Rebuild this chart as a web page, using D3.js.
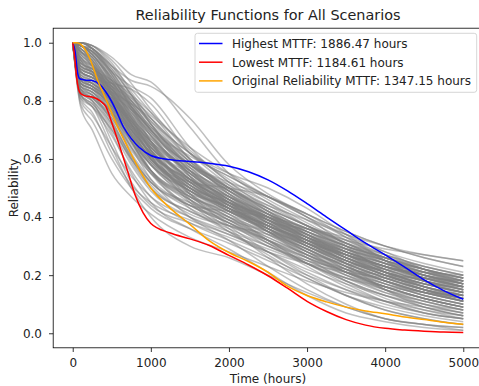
<!DOCTYPE html>
<html>
<head>
<meta charset="utf-8">
<script src="https://cdn.jsdelivr.net/npm/d3@7"></script>
<style>
  html, body { margin: 0; padding: 0; background: #fff; }
  svg { display: block; font-family: "DejaVu Sans", sans-serif; }
</style>
</head>
<body>
<svg id="chart" width="479" height="386"></svg>
<script>
// ---------------- DATA ----------------
const titleText = "Reliability Functions for All Scenarios";
const xLabel = "Time (hours)";
const yLabel = "Reliability";
const xTicks = [0, 1000, 2000, 3000, 4000, 5000];
const yTicks = [0.0, 0.2, 0.4, 0.6, 0.8, 1.0];

const legendLabels = [
  "Highest MTTF: 1886.47 hours",
  "Lowest MTTF: 1184.61 hours",
  "Original Reliability MTTF: 1347.15 hours"
];

// time grid used by every grey scenario curve
const grayTimes = [0, 100, 250, 500, 750, 1000, 1500, 2000, 2500, 3000, 3500, 4000, 4500, 5000];
const grayCurves = [
  [1, 1.00, 0.99, 0.95, 0.89, 0.865, 0.71, 0.55, 0.46, 0.39, 0.32, 0.26, 0.21, 0.17],
  [1, 0.99, 0.98, 0.92, 0.87, 0.85, 0.74, 0.58, 0.48, 0.41, 0.35, 0.30, 0.26, 0.23],
  [1, 0.99, 0.97, 0.90, 0.85, 0.81, 0.64, 0.52, 0.45, 0.38, 0.31, 0.25, 0.20, 0.16],
  [1, 0.90, 0.88, 0.86, 0.84, 0.79, 0.62, 0.54, 0.47, 0.41, 0.35, 0.30, 0.26, 0.23],
  [1, 0.99, 0.95, 0.84, 0.73, 0.66, 0.57, 0.50, 0.42, 0.34, 0.27, 0.21, 0.16, 0.13],
  [1, 0.86, 0.84, 0.78, 0.66, 0.56, 0.48, 0.44, 0.39, 0.33, 0.27, 0.22, 0.18, 0.15],
  [1, 0.97, 0.93, 0.82, 0.70, 0.60, 0.50, 0.45, 0.40, 0.35, 0.30, 0.26, 0.23, 0.20],
  [1, 0.88, 0.86, 0.80, 0.72, 0.64, 0.52, 0.43, 0.35, 0.28, 0.22, 0.17, 0.13, 0.10],
  [1, 0.83, 0.81, 0.73, 0.60, 0.50, 0.42, 0.37, 0.32, 0.27, 0.22, 0.18, 0.14, 0.11],
  [1, 1.00, 0.98, 0.90, 0.80, 0.70, 0.56, 0.47, 0.40, 0.33, 0.26, 0.20, 0.15, 0.11],
  [1, 0.92, 0.90, 0.84, 0.76, 0.68, 0.55, 0.46, 0.39, 0.32, 0.26, 0.21, 0.17, 0.14],
  [1, 0.85, 0.82, 0.74, 0.63, 0.55, 0.47, 0.41, 0.32, 0.24, 0.19, 0.16, 0.14, 0.13],
  [1, 0.98, 0.94, 0.83, 0.71, 0.62, 0.53, 0.47, 0.41, 0.35, 0.29, 0.24, 0.19, 0.16],
  [1, 0.78, 0.70, 0.55, 0.47, 0.41, 0.33, 0.28, 0.23, 0.18, 0.14, 0.11, 0.09, 0.07],
  [1, 0.87, 0.85, 0.81, 0.75, 0.68, 0.58, 0.50, 0.44, 0.39, 0.34, 0.30, 0.27, 0.25],
  [1, 0.99, 0.96, 0.86, 0.74, 0.63, 0.50, 0.42, 0.35, 0.29, 0.23, 0.18, 0.14, 0.11],
  [1, 0.89, 0.87, 0.83, 0.79, 0.74, 0.60, 0.49, 0.40, 0.32, 0.25, 0.19, 0.15, 0.12],
  [1, 0.84, 0.80, 0.66, 0.52, 0.44, 0.38, 0.33, 0.28, 0.24, 0.21, 0.19, 0.17, 0.16],
  [1, 1.00, 0.99, 0.93, 0.83, 0.74, 0.60, 0.50, 0.43, 0.37, 0.32, 0.27, 0.23, 0.20],
  [1, 0.91, 0.89, 0.83, 0.73, 0.63, 0.51, 0.44, 0.38, 0.33, 0.28, 0.24, 0.20, 0.17],
  [1, 0.95, 0.92, 0.82, 0.68, 0.56, 0.44, 0.42, 0.40, 0.36, 0.29, 0.22, 0.16, 0.12],
  [1, 0.86, 0.83, 0.76, 0.68, 0.61, 0.53, 0.47, 0.41, 0.36, 0.31, 0.27, 0.23, 0.20],
  [1, 0.99, 0.97, 0.88, 0.78, 0.70, 0.61, 0.54, 0.47, 0.40, 0.33, 0.27, 0.22, 0.18],
  [1, 0.82, 0.79, 0.70, 0.58, 0.49, 0.40, 0.34, 0.28, 0.22, 0.17, 0.13, 0.10, 0.08],
  [1, 0.93, 0.91, 0.87, 0.82, 0.76, 0.63, 0.52, 0.43, 0.35, 0.28, 0.22, 0.18, 0.15],
  [1, 0.98, 0.93, 0.80, 0.67, 0.58, 0.49, 0.43, 0.38, 0.33, 0.29, 0.25, 0.22, 0.19],
  [1, 0.88, 0.86, 0.80, 0.70, 0.60, 0.52, 0.50, 0.47, 0.40, 0.30, 0.21, 0.15, 0.11],
  [1, 1.00, 0.98, 0.91, 0.82, 0.72, 0.56, 0.45, 0.37, 0.30, 0.24, 0.19, 0.15, 0.12],
  [1, 0.84, 0.82, 0.77, 0.70, 0.62, 0.50, 0.43, 0.37, 0.32, 0.27, 0.23, 0.20, 0.18],
  [1, 0.95, 0.90, 0.76, 0.62, 0.53, 0.44, 0.38, 0.32, 0.26, 0.20, 0.15, 0.11, 0.08],
  [1, 0.90, 0.88, 0.85, 0.80, 0.72, 0.57, 0.48, 0.41, 0.35, 0.29, 0.24, 0.20, 0.17],
  [1, 0.99, 0.96, 0.87, 0.77, 0.68, 0.55, 0.46, 0.38, 0.31, 0.25, 0.20, 0.16, 0.13],
  [1, 0.81, 0.76, 0.62, 0.51, 0.45, 0.39, 0.34, 0.29, 0.24, 0.19, 0.15, 0.12, 0.09],
  [1, 0.87, 0.85, 0.80, 0.72, 0.65, 0.56, 0.48, 0.41, 0.36, 0.32, 0.29, 0.27, 0.25],
  [1, 0.97, 0.92, 0.81, 0.70, 0.62, 0.52, 0.44, 0.36, 0.28, 0.21, 0.15, 0.11, 0.08],
  [1, 0.92, 0.90, 0.85, 0.77, 0.69, 0.58, 0.51, 0.44, 0.37, 0.31, 0.26, 0.22, 0.19],
  [1, 0.85, 0.83, 0.75, 0.64, 0.56, 0.47, 0.42, 0.37, 0.32, 0.28, 0.24, 0.21, 0.18],
  [1, 1.00, 0.98, 0.89, 0.77, 0.66, 0.52, 0.43, 0.35, 0.27, 0.20, 0.14, 0.10, 0.07],
  [1, 0.90, 0.88, 0.84, 0.78, 0.70, 0.54, 0.42, 0.38, 0.36, 0.33, 0.28, 0.22, 0.17],
  [1, 0.94, 0.89, 0.77, 0.66, 0.58, 0.48, 0.41, 0.36, 0.31, 0.27, 0.23, 0.20, 0.17],
  [1, 0.83, 0.80, 0.72, 0.61, 0.52, 0.44, 0.39, 0.35, 0.31, 0.27, 0.23, 0.20, 0.17],
  [1, 0.99, 0.97, 0.89, 0.80, 0.73, 0.62, 0.53, 0.45, 0.37, 0.30, 0.24, 0.19, 0.15],
  [1, 0.91, 0.89, 0.82, 0.71, 0.61, 0.49, 0.41, 0.34, 0.27, 0.21, 0.16, 0.12, 0.09],
  [1, 0.86, 0.84, 0.79, 0.73, 0.66, 0.55, 0.46, 0.38, 0.31, 0.25, 0.20, 0.17, 0.14],
  [1, 0.98, 0.95, 0.85, 0.73, 0.64, 0.54, 0.46, 0.39, 0.32, 0.26, 0.21, 0.17, 0.14],
  [1, 0.79, 0.73, 0.60, 0.50, 0.43, 0.36, 0.31, 0.25, 0.19, 0.13, 0.09, 0.06, 0.04],
  [1, 0.93, 0.91, 0.86, 0.79, 0.71, 0.59, 0.50, 0.42, 0.36, 0.30, 0.25, 0.21, 0.18],
  [1, 0.99, 0.96, 0.86, 0.75, 0.65, 0.53, 0.45, 0.39, 0.34, 0.29, 0.25, 0.22, 0.19],
  [1, 0.88, 0.86, 0.80, 0.71, 0.62, 0.51, 0.44, 0.39, 0.34, 0.29, 0.25, 0.21, 0.18],
  [1, 0.84, 0.81, 0.72, 0.59, 0.50, 0.42, 0.36, 0.30, 0.24, 0.18, 0.13, 0.09, 0.06],
  [1, 1.00, 0.99, 0.94, 0.86, 0.77, 0.62, 0.51, 0.42, 0.34, 0.27, 0.21, 0.17, 0.14],
  [1, 0.90, 0.88, 0.83, 0.76, 0.69, 0.58, 0.52, 0.47, 0.41, 0.33, 0.25, 0.18, 0.13],
  [1, 0.96, 0.92, 0.80, 0.68, 0.59, 0.49, 0.43, 0.37, 0.31, 0.25, 0.20, 0.16, 0.13],
  [1, 0.86, 0.84, 0.78, 0.69, 0.60, 0.49, 0.42, 0.36, 0.30, 0.25, 0.21, 0.18, 0.15],
  [1, 0.99, 0.97, 0.90, 0.81, 0.73, 0.59, 0.48, 0.39, 0.31, 0.24, 0.18, 0.13, 0.10],
  [1, 0.82, 0.78, 0.68, 0.56, 0.47, 0.38, 0.32, 0.26, 0.20, 0.15, 0.11, 0.08, 0.06],
  [1, 0.92, 0.90, 0.86, 0.81, 0.75, 0.64, 0.55, 0.47, 0.40, 0.34, 0.28, 0.24, 0.21],
  [1, 0.97, 0.93, 0.83, 0.72, 0.63, 0.51, 0.45, 0.40, 0.33, 0.24, 0.15, 0.09, 0.06],
  [1, 0.87, 0.85, 0.79, 0.70, 0.62, 0.52, 0.44, 0.37, 0.31, 0.26, 0.22, 0.19, 0.17],
  [1, 0.89, 0.87, 0.81, 0.72, 0.63, 0.50, 0.42, 0.36, 0.30, 0.24, 0.19, 0.15, 0.12],
  [1, 1.00, 0.98, 0.92, 0.84, 0.76, 0.60, 0.48, 0.40, 0.33, 0.27, 0.22, 0.18, 0.15],
  [1, 0.85, 0.82, 0.73, 0.61, 0.52, 0.45, 0.40, 0.35, 0.30, 0.25, 0.21, 0.18, 0.16],
  [1, 0.94, 0.90, 0.79, 0.68, 0.60, 0.52, 0.46, 0.40, 0.34, 0.28, 0.23, 0.18, 0.14],
  [1, 0.91, 0.89, 0.84, 0.77, 0.70, 0.57, 0.47, 0.38, 0.30, 0.23, 0.17, 0.13, 0.10],
  [1, 0.83, 0.80, 0.71, 0.60, 0.51, 0.41, 0.37, 0.34, 0.29, 0.22, 0.15, 0.10, 0.07],
  [1, 0.98, 0.95, 0.85, 0.74, 0.66, 0.56, 0.49, 0.43, 0.37, 0.31, 0.25, 0.20, 0.16],
  [1, 0.88, 0.86, 0.81, 0.74, 0.67, 0.56, 0.47, 0.39, 0.32, 0.26, 0.21, 0.17, 0.14],
  [1, 0.95, 0.91, 0.79, 0.66, 0.56, 0.45, 0.38, 0.31, 0.24, 0.18, 0.13, 0.09, 0.06],
  [1, 0.86, 0.84, 0.77, 0.67, 0.58, 0.46, 0.38, 0.30, 0.25, 0.22, 0.20, 0.19, 0.18],
  [1, 0.99, 0.98, 0.91, 0.82, 0.74, 0.62, 0.55, 0.50, 0.43, 0.34, 0.25, 0.18, 0.14],
  [1, 0.80, 0.75, 0.64, 0.54, 0.47, 0.40, 0.35, 0.30, 0.25, 0.20, 0.16, 0.12, 0.09],
  [1, 0.92, 0.90, 0.84, 0.75, 0.66, 0.53, 0.45, 0.38, 0.32, 0.26, 0.21, 0.17, 0.14],
  [1, 0.97, 0.94, 0.84, 0.72, 0.61, 0.48, 0.40, 0.33, 0.27, 0.21, 0.16, 0.12, 0.09],
  [1, 0.87, 0.85, 0.80, 0.73, 0.65, 0.53, 0.45, 0.39, 0.33, 0.28, 0.24, 0.21, 0.19],
  [1, 0.90, 0.88, 0.82, 0.73, 0.64, 0.55, 0.47, 0.40, 0.33, 0.27, 0.22, 0.18, 0.15],
  [1, 0.99, 0.96, 0.88, 0.79, 0.71, 0.58, 0.49, 0.41, 0.34, 0.28, 0.23, 0.19, 0.16],
  [1, 0.84, 0.81, 0.74, 0.64, 0.55, 0.46, 0.39, 0.32, 0.25, 0.19, 0.14, 0.11, 0.08],
  [1, 0.93, 0.91, 0.86, 0.78, 0.70, 0.56, 0.46, 0.39, 0.33, 0.28, 0.23, 0.19, 0.16],
  [1, 0.96, 0.92, 0.81, 0.69, 0.59, 0.47, 0.39, 0.31, 0.23, 0.16, 0.11, 0.07, 0.05],
  [1, 0.88, 0.86, 0.82, 0.77, 0.71, 0.60, 0.50, 0.41, 0.33, 0.26, 0.20, 0.16, 0.13],
  [1, 0.97, 0.94, 0.85, 0.74, 0.63, 0.46, 0.36, 0.26, 0.17, 0.10, 0.05, 0.03, 0.02],
  [1, 0.85, 0.83, 0.76, 0.64, 0.53, 0.40, 0.32, 0.23, 0.15, 0.09, 0.05, 0.03, 0.01],
  [1, 0.90, 0.88, 0.82, 0.72, 0.61, 0.45, 0.35, 0.27, 0.19, 0.13, 0.08, 0.05, 0.03],
  [1, 0.99, 0.97, 0.89, 0.78, 0.66, 0.48, 0.37, 0.28, 0.20, 0.13, 0.08, 0.05, 0.03],
  [1, 0.82, 0.79, 0.69, 0.55, 0.45, 0.36, 0.29, 0.21, 0.13, 0.07, 0.04, 0.02, 0.01],
  [1, 0.94, 0.91, 0.83, 0.72, 0.62, 0.48, 0.40, 0.32, 0.24, 0.17, 0.11, 0.07, 0.05],
  [1, 0.88, 0.85, 0.77, 0.66, 0.56, 0.43, 0.35, 0.28, 0.21, 0.15, 0.10, 0.07, 0.05],
  [1, 1.00, 0.98, 0.90, 0.79, 0.69, 0.54, 0.44, 0.35, 0.26, 0.18, 0.12, 0.08, 0.05],
  [1, 0.82, 0.78, 0.64, 0.50, 0.40, 0.30, 0.26, 0.20, 0.14, 0.09, 0.05, 0.03, 0.02],
  [1, 0.90, 0.87, 0.79, 0.68, 0.58, 0.47, 0.40, 0.34, 0.28, 0.23, 0.18, 0.14, 0.11],
  [1, 0.95, 0.92, 0.84, 0.74, 0.65, 0.53, 0.45, 0.38, 0.31, 0.25, 0.20, 0.16, 0.13],
  [1, 0.86, 0.84, 0.80, 0.74, 0.67, 0.55, 0.45, 0.36, 0.28, 0.21, 0.16, 0.12, 0.09],
  [1, 0.99, 0.97, 0.87, 0.75, 0.64, 0.51, 0.43, 0.37, 0.32, 0.27, 0.23, 0.19, 0.16],
  [1, 0.83, 0.81, 0.75, 0.66, 0.58, 0.49, 0.43, 0.37, 0.31, 0.25, 0.20, 0.16, 0.12],
  [1, 0.92, 0.89, 0.80, 0.69, 0.60, 0.51, 0.43, 0.35, 0.28, 0.24, 0.22, 0.21, 0.20],
  [1, 0.97, 0.95, 0.88, 0.78, 0.68, 0.54, 0.45, 0.37, 0.30, 0.24, 0.19, 0.15, 0.12],
  [1, 0.87, 0.84, 0.76, 0.65, 0.56, 0.46, 0.39, 0.33, 0.27, 0.22, 0.18, 0.15, 0.13],
  [1, 0.91, 0.89, 0.85, 0.78, 0.70, 0.58, 0.49, 0.41, 0.34, 0.28, 0.23, 0.20, 0.17],
  [1, 0.98, 0.94, 0.82, 0.70, 0.60, 0.49, 0.42, 0.35, 0.29, 0.23, 0.18, 0.14, 0.11],
  [1, 0.84, 0.82, 0.76, 0.67, 0.59, 0.50, 0.45, 0.40, 0.35, 0.30, 0.26, 0.22, 0.19],
  [1, 0.93, 0.90, 0.82, 0.72, 0.63, 0.52, 0.44, 0.36, 0.29, 0.23, 0.18, 0.14, 0.12],
  [1, 0.89, 0.86, 0.78, 0.66, 0.55, 0.44, 0.38, 0.32, 0.26, 0.21, 0.17, 0.13, 0.10],
  [1, 1.00, 0.99, 0.92, 0.82, 0.72, 0.58, 0.49, 0.42, 0.36, 0.30, 0.26, 0.22, 0.19],
  [1, 0.85, 0.83, 0.78, 0.71, 0.64, 0.53, 0.46, 0.40, 0.35, 0.30, 0.25, 0.21, 0.17],
  [1, 0.96, 0.93, 0.83, 0.71, 0.61, 0.50, 0.43, 0.36, 0.30, 0.24, 0.19, 0.15, 0.12],
  [1, 0.88, 0.85, 0.78, 0.69, 0.60, 0.50, 0.43, 0.37, 0.32, 0.27, 0.23, 0.19, 0.16],
  [1, 0.81, 0.78, 0.70, 0.60, 0.52, 0.43, 0.37, 0.31, 0.26, 0.21, 0.17, 0.14, 0.11],
  [1, 0.94, 0.92, 0.87, 0.80, 0.72, 0.59, 0.50, 0.43, 0.37, 0.31, 0.26, 0.22, 0.18],
  [1, 0.99, 0.96, 0.87, 0.76, 0.66, 0.53, 0.44, 0.36, 0.29, 0.22, 0.16, 0.12, 0.09]
];

// highlighted scenarios
const highestTimes = [0, 30, 60, 90, 150, 250, 350, 450, 550, 650, 750, 850, 1000, 1250, 1500, 1750, 2000, 2250, 2500, 2750, 3000, 3250, 3500, 3750, 4000, 4250, 4500, 4750, 5000];
const highestValues = [1.0, 0.97, 0.90, 0.876, 0.872, 0.870, 0.855, 0.82, 0.77, 0.71, 0.67, 0.64, 0.612, 0.597, 0.591, 0.585, 0.575, 0.556, 0.528, 0.49, 0.446, 0.40, 0.355, 0.31, 0.27, 0.228, 0.184, 0.147, 0.117];

const lowestTimes = [0, 25, 50, 75, 100, 150, 250, 350, 425, 500, 600, 700, 800, 900, 1000, 1250, 1500, 1750, 2000, 2250, 2500, 2750, 3000, 3250, 3500, 3750, 4000, 4250, 4500, 4750, 5000];
const lowestValues = [1.0, 0.95, 0.88, 0.84, 0.825, 0.818, 0.813, 0.80, 0.78, 0.725, 0.645, 0.56, 0.475, 0.415, 0.378, 0.345, 0.325, 0.302, 0.268, 0.235, 0.198, 0.155, 0.11, 0.075, 0.047, 0.028, 0.017, 0.011, 0.007, 0.004, 0.003];

const originalTimes = [0, 50, 100, 150, 220, 320, 435, 560, 705, 860, 1000, 1250, 1500, 1750, 2000, 2250, 2500, 2750, 3000, 3250, 3500, 3750, 4000, 4250, 4500, 4750, 5000];
const originalValues = [1.0, 1.0, 0.995, 0.98, 0.945, 0.87, 0.80, 0.72, 0.64, 0.56, 0.50, 0.43, 0.375, 0.318, 0.278, 0.247, 0.21, 0.162, 0.13, 0.108, 0.09, 0.077, 0.067, 0.056, 0.047, 0.038, 0.031];

const seriesColors = ["blue", "red", "orange"];

// ---------------- LAYOUT ----------------
const plot = { left: 53.2, right: 482.8, top: 28.2, bottom: 347.8 };

const svg = d3.select("#chart");
const x = d3.scaleLinear().domain([-250, 5250]).range([plot.left, plot.right]);
const y = d3.scaleLinear().domain([-0.05, 1.05]).range([plot.bottom, plot.top]);

const line = d3.line()
  .x(d => x(d[0]))
  .y(d => y(d[1]))
  .curve(d3.curveMonotoneX);

const g = svg.append("g");

// grey scenario curves
g.selectAll("path.scn")
  .data(grayCurves)
  .join("path")
  .attr("class", "scn")
  .attr("d", vals => line(vals.map((v, i) => [grayTimes[i], v])))
  .attr("fill", "none")
  .attr("stroke", "#808080")
  .attr("stroke-opacity", 0.5)
  .attr("stroke-width", 1.5);

const highlighted = [
  [highestTimes, highestValues],
  [lowestTimes, lowestValues],
  [originalTimes, originalValues]
];
highlighted.forEach(([ts, vs], k) => {
  g.append("path")
    .attr("d", line(vs.map((v, i) => [ts[i], v])))
    .attr("fill", "none")
    .attr("stroke", seriesColors[k])
    .attr("stroke-width", 1.5);
});

// axes
const fontSize = 12;
const xAxis = d3.axisBottom(x).tickValues(xTicks).tickSize(4.2).tickPadding(6).tickFormat(d3.format("d"));
const yAxis = d3.axisLeft(y).tickValues(yTicks).tickSize(4.2).tickPadding(7).tickFormat(d3.format(".1f"));

const gx = svg.append("g").attr("transform", `translate(0,${plot.bottom})`).call(xAxis);
const gy = svg.append("g").attr("transform", `translate(${plot.left},0)`).call(yAxis);
[gx, gy].forEach(a => {
  a.select(".domain").remove();
  a.selectAll(".tick line").attr("stroke", "#000").attr("stroke-width", 0.8);
  a.selectAll(".tick text").attr("fill", "#222").style("font-size", fontSize + "px").style("font-family", "DejaVu Sans");
});

// spines
svg.append("rect")
  .attr("x", plot.left).attr("y", plot.top)
  .attr("width", plot.right - plot.left).attr("height", plot.bottom - plot.top)
  .attr("fill", "none").attr("stroke", "#000").attr("stroke-width", 0.8);

// title and labels
svg.append("text")
  .attr("x", (plot.left + plot.right) / 2).attr("y", 19.5)
  .attr("text-anchor", "middle")
  .attr("fill", "#222")
  .style("font-size", "14.4px")
  .text(titleText);

svg.append("text")
  .attr("x", (plot.left + plot.right) / 2).attr("y", 383)
  .attr("text-anchor", "middle")
  .attr("fill", "#222")
  .style("font-size", fontSize + "px")
  .text(xLabel);

svg.append("text")
  .attr("transform", `translate(17.5,${(plot.top + plot.bottom) / 2}) rotate(-90)`)
  .attr("text-anchor", "middle")
  .attr("fill", "#222")
  .style("font-size", fontSize + "px")
  .text(yLabel);

// legend
const lg = svg.append("g");
lg.append("rect")
  .attr("x", 195).attr("y", 33.3).attr("width", 281.7).attr("height", 59)
  .attr("rx", 2.5).attr("ry", 2.5)
  .attr("fill", "#fff").attr("fill-opacity", 0.8)
  .attr("stroke", "#ccc").attr("stroke-width", 0.8);
legendLabels.forEach((lab, i) => {
  const yy = 43.5 + i * 18.7;
  lg.append("line")
    .attr("x1", 199).attr("x2", 222.5).attr("y1", yy).attr("y2", yy)
    .attr("stroke", seriesColors[i]).attr("stroke-width", 1.5);
  lg.append("text")
    .attr("x", 232).attr("y", yy + 4.3)
    .attr("fill", "#222")
    .style("font-size", fontSize + "px")
    .text(lab);
});
</script>
</body>
</html>
